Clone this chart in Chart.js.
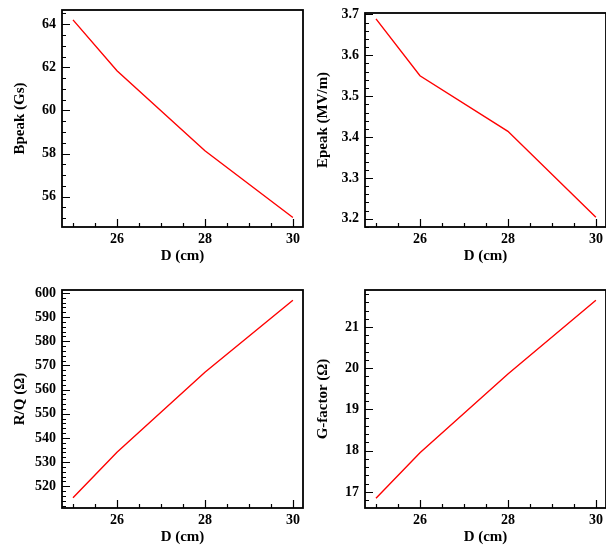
<!DOCTYPE html>
<html>
<head>
<meta charset="utf-8">
<script src="https://cdn.jsdelivr.net/npm/chart.js@4/dist/chart.umd.min.js"></script>
<style>
  html, body { margin: 0; padding: 0; background: #fff; overflow: hidden; }
  #wrap { position: relative; width: 606px; height: 546px; overflow: hidden; }
  canvas { position: absolute; }
</style>
</head>
<body>
<div id="wrap">
  <canvas id="c1" width="310" height="273" style="left:0;top:0"></canvas>
  <canvas id="c2" width="310" height="273" style="left:303px;top:0"></canvas>
  <canvas id="c3" width="310" height="273" style="left:0;top:273px"></canvas>
  <canvas id="c4" width="310" height="273" style="left:303px;top:273px"></canvas>
</div>
<script>
// cavity diameter D (cm)
const dValues = [25, 26, 28, 30];
const bpeak = [64.2, 61.84, 58.13, 55.03];
const epeak = [3.689, 3.55, 3.414, 3.204];
const rq = [515.2, 534.1, 567.2, 597.0];
const gfactor = [16.85, 17.95, 19.86, 21.65];

const xTicks = [26, 28, 30];
const bpeakTicks = [56, 58, 60, 62, 64];
const epeakTicks = [3.2, 3.3, 3.4, 3.5, 3.6, 3.7];
const rqTicks = [520, 530, 540, 550, 560, 570, 580, 590, 600];
const gfactorTicks = [17, 18, 19, 20, 21];

Chart.defaults.font.family = "'Liberation Serif', 'DejaVu Serif', serif";
Chart.defaults.color = '#000';

// frame + inward tick marks (major and minor) on bottom and left
const frameTicks = {
  id: 'frameTicks',
  afterDraw(chart, args, opts) {
    const ctx = chart.ctx;
    const a = chart.chartArea;
    const xs = chart.scales.x, ys = chart.scales.y;
    ctx.save();
    ctx.strokeStyle = '#000';
    ctx.lineWidth = 1.2;
    ctx.beginPath();
    const eps = 1e-6;
    for (let v = Math.ceil(xs.min / opts.xMinor - eps) * opts.xMinor; v <= xs.max + eps; v += opts.xMinor) {
      const r = v / opts.xMajor;
      const len = Math.abs(r - Math.round(r)) < 1e-4 ? 8 : 4;
      const px = Math.round(xs.getPixelForValue(v)) + 0.5;
      ctx.moveTo(px, a.bottom);
      ctx.lineTo(px, a.bottom - len);
    }
    for (let v = Math.ceil(ys.min / opts.yMinor - eps) * opts.yMinor; v <= ys.max + eps; v += opts.yMinor) {
      const r = v / opts.yMajor;
      const len = Math.abs(r - Math.round(r)) < 1e-4 ? 8 : 4;
      const py = Math.round(ys.getPixelForValue(v)) + 0.5;
      ctx.moveTo(a.left, py);
      ctx.lineTo(a.left + len, py);
    }
    ctx.stroke();
    ctx.lineWidth = 1.8;
    ctx.strokeStyle = '#000';
    ctx.strokeRect(a.left, a.top, a.right - a.left, a.bottom - a.top);
    ctx.restore();
  }
};

function makePanel(id, values, yTitle, yMin, yMax, yTicks, yMajor, yMinor, padTop, xHeight, xTitlePad) {
  new Chart(document.getElementById(id), {
    type: 'line',
    data: {
      datasets: [{
        data: dValues.map((d, i) => ({ x: d, y: values[i] })),
        borderColor: '#ff0000',
        borderWidth: 1.4,
        pointRadius: 0,
        tension: 0,
        fill: false
      }]
    },
    options: {
      responsive: false,
      animation: false,
      devicePixelRatio: 1,
      layout: { padding: { top: padTop, right: 7, left: 0, bottom: 0 } },
      plugins: {
        legend: { display: false },
        tooltip: { enabled: false },
        frameTicks: { xMinor: 0.5, xMajor: 2, yMinor: yMinor, yMajor: yMajor }
      },
      scales: {
        x: {
          type: 'linear',
          min: 24.75,
          max: 30.23,
          grid: { display: false, drawTicks: false },
          border: { display: false },
          afterBuildTicks(s) { s.ticks = xTicks.map(v => ({ value: v })); },
          afterFit(s) { s.height = xHeight; s.paddingLeft = 0; s.paddingRight = 0; },
          ticks: { padding: 4, font: { size: 14, weight: 'bold' }, maxRotation: 0 },
          title: { display: true, text: 'D (cm)', font: { size: 15, weight: 'bold' }, padding: { top: 0, bottom: xTitlePad } }
        },
        y: {
          type: 'linear',
          min: yMin,
          max: yMax,
          grid: { display: false, drawTicks: false },
          border: { display: false },
          afterBuildTicks(s) { s.ticks = yTicks.map(v => ({ value: v })); },
          afterFit(s) { s.width = 62; s.paddingTop = 0; s.paddingBottom = 0; },
          ticks: { padding: 6, font: { size: 14, weight: 'bold' } },
          title: { display: true, text: yTitle, font: { size: 15, weight: 'bold' }, padding: { top: 11, bottom: 0 } }
        }
      }
    },
    plugins: [frameTicks]
  });
}

makePanel('c1', bpeak, 'Bpeak (Gs)', 54.59, 64.66, bpeakTicks, 2, 0.5, 10, 46, 8);
makePanel('c2', epeak, 'Epeak (MV/m)', 3.180, 3.7035, epeakTicks, 0.1, 0.02, 13, 46, 8);
makePanel('c3', rq, 'R/Q (\u03A9)', 511.0, 601.24, rqTicks, 10, 2, 17, 38, 0);
makePanel('c4', gfactor, 'G-factor (\u03A9)', 16.612, 21.897, gfactorTicks, 1, 0.2, 17, 38, 0);
</script>
</body>
</html>
